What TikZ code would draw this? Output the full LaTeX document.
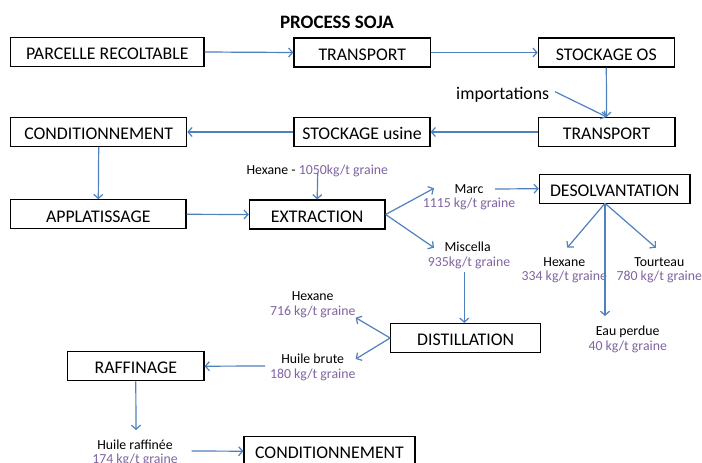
\documentclass[tikz,border=0pt]{standalone}
\usepackage{fontspec}
\setmainfont{Carlito}
\usetikzlibrary{arrows.meta}
\definecolor{flowblue}{HTML}{4F81BD}
\definecolor{valpurple}{HTML}{8064A2}
\begin{document}
\begin{tikzpicture}[x=1pt,y=-1pt,
  box/.style={draw=black, line width=1.2pt, inner sep=0pt, font=\fontsize{17.8}{20}\selectfont, minimum height=29pt, text height=15.5pt, text depth=0pt},
  arr/.style={draw=flowblue, line width=1.2pt, -{Straight Barb[length=4pt,width=9pt]}},
  lbl/.style={inner sep=0pt, font=\fontsize{13.8}{15.7}\selectfont},
  val/.style={lbl, text=valpurple},
]
\useasboundingbox (0,0) rectangle (702,463);
\fill[white] (0,0) rectangle (702,463);

% title
\node[font=\fontsize{19}{22}\selectfont\bfseries] (title) at (337,22.5) {PROCESS SOJA};

% boxes
\node[box, minimum width=193.3pt] (parc)   at (107.3,52) {PARCELLE RECOLTABLE};
\node[box, minimum width=136.7pt] (tr1)    at (362.3,52.5) {TRANSPORT};
\node[box, minimum width=136pt]   (sos)    at (606.3,52.5) {STOCKAGE OS};
\node[box, minimum width=136.7pt] (tr2)    at (606.6,132) {TRANSPORT};
\node[box, minimum width=136pt]   (susine) at (362,132) {STOCKAGE usine};
\node[box, minimum width=176pt]   (cond1)  at (98.7,132) {CONDITIONNEMENT};
\node[box, minimum width=175.3pt] (appl)   at (98.3,214.3) {APPLATISSAGE};
\node[box, minimum width=135.7pt] (extr)   at (317.2,214.5) {EXTRACTION};
\node[box, minimum width=150.7pt] (desolv) at (614.7,188.7) {DESOLVANTATION};
\node[box, minimum width=150pt]   (dist)   at (465.7,338) {DISTILLATION};
\node[box, minimum width=136.3pt] (raff)   at (135.8,366.2) {RAFFINAGE};
\node[box, minimum width=171pt]   (cond2)  at (329.5,451.2) {CONDITIONNEMENT};

% labels
\node[lbl, font=\fontsize{17.8}{20}\selectfont] (imp) at (502.7,94.3) {importations};
\node[lbl] (hexin) at (317.3,170.7) {Hexane - \textcolor{valpurple}{1050kg/t graine}};
\node[lbl] (marc)  at (469,189) {Marc};
\node[val] (marcv) at (469,204.3) {1115 kg/t graine};
\node[lbl] (misc)  at (467.7,246.7) {Miscella};
\node[val] (miscv) at (469,262.7) {935kg/t graine};
\node[lbl] (hex1)  at (564.3,261.7) {Hexane};
\node[val] (hex1v) at (564.3,277) {334 kg/t graine};
\node[lbl] (tour)  at (659.3,261.7) {Tourteau};
\node[val] (tourv) at (659.3,277) {780 kg/t graine};
\node[lbl] (eau)   at (627.7,331.7) {Eau perdue};
\node[val] (eauv)  at (627.7,347.3) {40 kg/t graine};
\node[lbl] (hex2)  at (312.7,295.7) {Hexane};
\node[val] (hex2v) at (312.7,311.7) {716 kg/t graine};
\node[lbl] (hb)    at (312.7,359) {Huile brute};
\node[val] (hbv)   at (312.7,375) {180 kg/t graine};
\node[lbl] (hr)    at (135,444.3) {Huile raffinée};
\node[val] (hrv)   at (135,460) {174 kg/t graine};

% connector end points
\coordinate (impOut)  at (555,91.7);
\coordinate (hexinOut) at (317.7,173);
\coordinate (marcIn)  at (434,188.3);
\coordinate (marcOut) at (495,189);
\coordinate (miscIn)  at (434,247.7);
\coordinate (miscOut) at (464.3,272);
\coordinate (dsrc)    at (605,203.3);
\coordinate (hex1In)  at (567.3,247.7);
\coordinate (tourIn)  at (656,247.7);
\coordinate (eauIn)   at (605,316);
\coordinate (hex2In)  at (355.7,317.7);
\coordinate (hbIn)    at (355.7,359);
\coordinate (hbOut)   at (265,366);
\coordinate (hrIn)    at (136,430);
\coordinate (hrOut)   at (191.7,451);

% connectors
\draw[arr] (parc.east) -- (tr1.west);
\draw[arr] (tr1.east) -- (sos.west);
\draw[arr] (sos.south) -- (tr2.north);
\draw[arr] (impOut) -- (tr2.north);
\draw[arr] (tr2.west) -- (susine.east);
\draw[arr] (susine.west) -- (cond1.east);
\draw[arr] (cond1.south) -- (appl.north);
\draw[arr] (appl.east) -- (extr.west);
\draw[arr] (hexinOut) -- (extr.north);
\draw[arr] (extr.east) -- (marcIn);
\draw[arr] (extr.east) -- (miscIn);
\draw[arr] (marcOut) -- (desolv.west);
\draw[arr] (dsrc) -- (hex1In);
\draw[arr] (dsrc) -- (tourIn);
\draw[arr] (dsrc) -- (eauIn);
\draw[arr] (miscOut) -- (miscOut |- dist.north);
\draw[arr] (dist.west) -- (hex2In);
\draw[arr] (dist.west) -- (hbIn);
\draw[arr] (hbOut) -- (raff.east);
\draw[arr] (raff.south) -- (hrIn);
\draw[arr] (hrOut) -- (cond2.west);
\end{tikzpicture}
\end{document}
